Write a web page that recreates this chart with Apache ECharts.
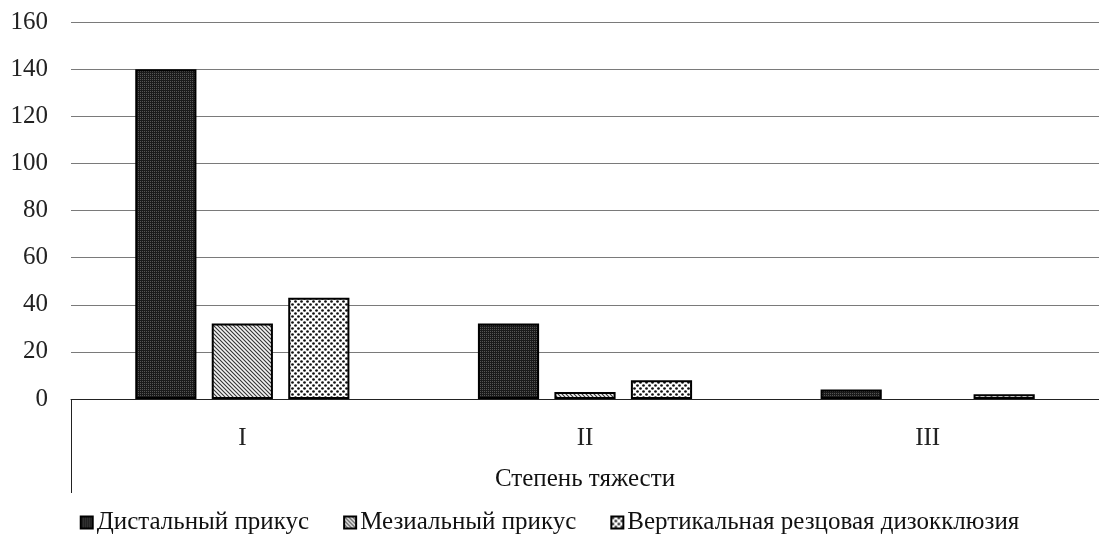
<!DOCTYPE html>
<html><head><meta charset="utf-8">
<script src="https://cdn.jsdelivr.net/npm/echarts@6/dist/echarts.min.js"></script>
<style>html,body{margin:0;padding:0;background:#fff}#c{width:1099px;height:545px}</style>
</head><body><div id="c"></div>
<script>
const categories = ['I', 'II', 'III'];
const seriesNames = ['Дистальный прикус', 'Мезиальный прикус', 'Вертикальная резцовая дизокклюзия'];
const distal = [140, 32, 4];
const mesial = [32, 3, 0];
const vertical = [43, 8, 2];
const axisTitle = 'Степень тяжести';

function pat(size, draw) {
  const c = document.createElement('canvas');
  c.width = c.height = size;
  const g = c.getContext('2d');
  draw(g, size);
  return { image: c, repeat: 'repeat' };
}
const pDist = pat(2, (g) => {
  g.fillStyle = '#555'; g.fillRect(0, 0, 2, 2);
  g.fillStyle = '#1a1a1a'; g.fillRect(0, 0, 1, 1); g.fillRect(1, 1, 1, 1); g.fillRect(1, 0, 1, 1);
});
const pMes = pat(4, (g, s) => {
  g.fillStyle = '#f2f2f2'; g.fillRect(0, 0, s, s);
  g.strokeStyle = '#333'; g.lineWidth = 1.1;
  g.beginPath();
  g.moveTo(-1, -1); g.lineTo(s + 1, s + 1);
  g.moveTo(-1, s - 1); g.lineTo(1, s + 1);
  g.moveTo(s - 1, -1); g.lineTo(s + 1, 1);
  g.stroke();
});
const pVert = pat(6, (g, s) => {
  g.fillStyle = '#ffffff'; g.fillRect(0, 0, s, s);
  g.fillStyle = '#111';
  [[1.5, 1.5], [4.5, 4.5]].forEach(([x, y]) => {
    g.beginPath(); g.arc(x, y, 1.35, 0, Math.PI * 2); g.fill();
  });
});

const font = '"Liberation Serif", "Times New Roman", serif';
const chart = echarts.init(document.getElementById('c'));
const mk = (name, data, color) => ({
  name, type: 'bar', data: data.map(v => v === 0 ? '-' : v), barGap: '25%', barCategoryGap: '37.5%',
  itemStyle: { color, borderColor: '#000', borderWidth: 2 }
});
chart.setOption({
  animation: false,
  textStyle: { fontFamily: font },
  grid: { left: 71, right: 0, top: 22, bottom: 146, containLabel: false },
  legend: {
    bottom: 5, left: 'center', icon: 'rect', itemWidth: 12, itemHeight: 12, itemGap: 34,
    textStyle: { fontFamily: font, fontSize: 25, color: '#111', padding: [0, 0, 0, -1] },
    data: seriesNames
  },
  xAxis: {
    type: 'category', data: categories,
    axisLine: { lineStyle: { color: '#222', width: 1 } },
    axisTick: { show: false },
    axisLabel: { fontFamily: font, fontSize: 25, color: '#222', margin: 27 },
    name: axisTitle, nameLocation: 'middle', nameGap: 68,
    nameTextStyle: { fontFamily: font, fontSize: 25, color: '#111' }
  },
  yAxis: {
    type: 'value', min: 0, max: 160, interval: 20,
    axisLine: { show: false }, axisTick: { show: false },
    axisLabel: { fontFamily: font, fontSize: 25, color: '#222', margin: 23 },
    splitLine: { lineStyle: { color: '#7a7a7a', width: 1 } }
  },
  series: [mk(seriesNames[0], distal, pDist), mk(seriesNames[1], mesial, pMes), mk(seriesNames[2], vertical, pVert)]
});
// left boundary line below the category axis (multi-level category frame)
const c0 = chart.convertToPixel({ xAxisIndex: 0 }, categories[0]);
const c1 = chart.convertToPixel({ xAxisIndex: 0 }, categories[1]);
const y0 = chart.convertToPixel({ yAxisIndex: 0 }, 0);
const xl = Math.round(c0 - (c1 - c0) / 2) + 0.5;
chart.setOption({
  graphic: [{ type: 'line', shape: { x1: xl, y1: y0, x2: xl, y2: y0 + 94 }, style: { stroke: '#222', lineWidth: 1 } }]
});
</script></body></html>
